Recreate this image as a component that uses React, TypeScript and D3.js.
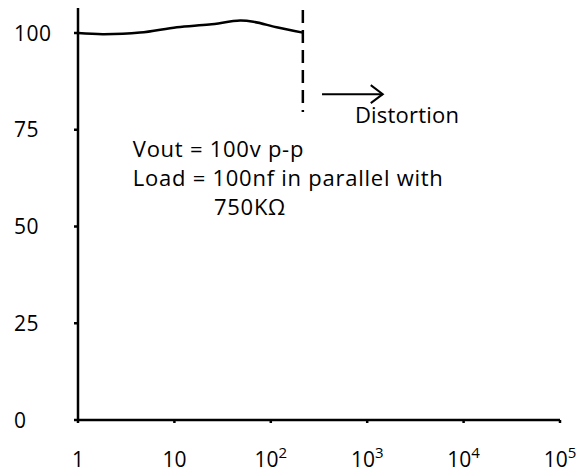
import React from "react";
import * as d3 from "d3";

const freqs = [1, 1.8, 4.4, 10.6, 23, 48, 66, 115, 215];
const response = [100, 99.7, 100.1, 101.5, 102.2, 103.2, 102.9, 101.5, 100.1];
const yTicks = [0, 25, 50, 75, 100];
const xTicks = [1, 10, 100, 1000, 10000, 100000];
const xTickBase = ["1", "10", "10", "10", "10", "10"];
const xTickExp = ["", "", "2", "3", "4", "5"];
const distortionFreq = 215;
const noteLines = ["Vout = 100v p-p", "Load = 100nf in parallel with", "750KΩ"];

const W = 587;
const H = 473;
const FONT = "'Open Sans', sans-serif";

export default function App() {
  const x = d3.scaleLog().domain([1, 1e5]).range([78, 560]);
  const y = d3.scaleLinear().domain([0, 100]).range([420, 33]);
  const line = d3
    .line<number>()
    .x((_, i) => x(freqs[i]))
    .y((d) => y(d))
    .curve(d3.curveCatmullRom.alpha(0.5));
  const path = line(response) || "";

  const ax0 = x(340), ax1 = x(1450), ay = y(84.2);

  return (
    <svg
      width={W}
      height={H}
      style={{ position: "absolute", left: 0, top: 0, background: "#fff" }}
      fontFamily={FONT}
    >
      <rect x={0} y={0} width={W} height={H} fill="#fff" />
      {/* axes */}
      <line x1={x(1)} x2={x(1)} y1={y(0)} y2={8} stroke="#000" strokeWidth={2.5} />
      <line x1={x(1) - 1} x2={x(1e5)} y1={y(0)} y2={y(0)} stroke="#000" strokeWidth={2.5} />
      {yTicks.map((t) => (
        <g key={"y" + t}>
          <line x1={x(1) - 4} x2={x(1)} y1={y(t)} y2={y(t)} stroke="#000" strokeWidth={2.5} />
          <text x={14} y={y(t) + 7.5} fontSize={21} letterSpacing={0.5} fill="#000">
            {t}
          </text>
        </g>
      ))}
      {xTicks.map((t, i) => (
        <g key={"x" + t}>
          <line x1={x(t)} x2={x(t)} y1={y(0)} y2={y(0) + 3} stroke="#000" strokeWidth={2.5} />
          <text x={x(t)} y={467} fontSize={21} textAnchor="middle" fill="#000">
            {xTickBase[i]}
            {xTickExp[i] && (
              <tspan dy={-9} fontSize={15}>
                {xTickExp[i]}
              </tspan>
            )}
          </text>
        </g>
      ))}
      {/* response curve */}
      <path d={path} fill="none" stroke="#000" strokeWidth={2.5} strokeLinejoin="round" />
      {/* distortion limit */}
      <line
        x1={x(distortionFreq)}
        x2={x(distortionFreq)}
        y1={10}
        y2={112}
        stroke="#000"
        strokeWidth={2.5}
        strokeDasharray="13,7"
      />
      <line x1={ax0} x2={ax1} y1={ay} y2={ay} stroke="#000" strokeWidth={2} />
      <path
        d={`M${ax1 - 12},${ay - 9} L${ax1},${ay} L${ax1 - 12},${ay + 9}`}
        fill="none"
        stroke="#000"
        strokeWidth={2}
      />
      <text x={x(746)} y={y(76.8)} fontSize={22} letterSpacing={0.2} fill="#000">
        Distortion
      </text>
      <text x={x(3.7)} y={y(68)} fontSize={22} letterSpacing={0.75} fill="#000">
        {noteLines[0]}
      </text>
      <text x={x(3.7)} y={y(60.5)} fontSize={22} letterSpacing={0.75} fill="#000">
        {noteLines[1]}
      </text>
      <text x={x(25.7)} y={y(53)} fontSize={22} letterSpacing={0.75} fill="#000">
        {noteLines[2]}
      </text>
    </svg>
  );
}
